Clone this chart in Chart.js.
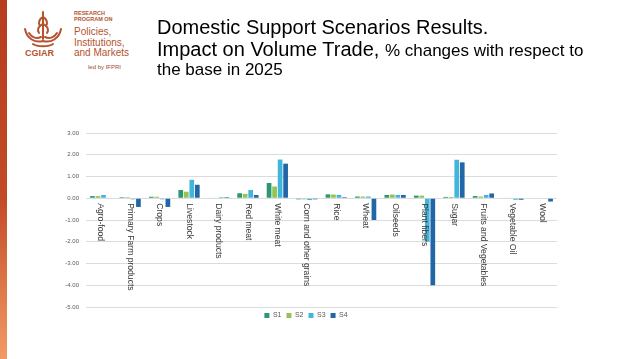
<!DOCTYPE html>
<html>
<head>
<meta charset="utf-8">
<script src="https://cdn.jsdelivr.net/npm/chart.js@4/dist/chart.umd.min.js"></script>
<style>
  html, body { margin:0; padding:0; background:#fff; }
  body { width:638px; height:359px; position:relative; overflow:hidden; font-family:"Liberation Sans", Arial, sans-serif; }
  #bar { position:absolute; left:0; top:0; width:7px; height:359px; background:linear-gradient(#b63d1d, #c24b26 55%, #f39b64); }
  #chartWrap { position:absolute; left:0; top:0; width:638px; height:359px; }
  .t { position:absolute; left:157px; color:#000; white-space:nowrap; }
  .logo { position:absolute; color:#b4532e; white-space:nowrap; font-family:"Liberation Sans", Arial, sans-serif; }
</style>
</head>
<body>
<div id="bar"></div>
<svg style="position:absolute;left:21px;top:9px" width="44" height="42" viewBox="0 0 44 42">
  <g fill="none" stroke="#b4532e" stroke-width="2" stroke-linecap="round">
    <path d="M22 3 L22 30"/>
    <path d="M22 8 C18 10 17 14 19 17"/>
    <path d="M22 8 C26 10 27 14 25 17"/>
    <path d="M22 15 C17 17 16 21 18 24"/>
    <path d="M22 15 C27 17 28 21 26 24"/>
    <path d="M4 20 C6 30 14 34 22 32 C30 34 38 30 40 20"/>
    <path d="M8 24 C11 29 16 30 20 28"/>
    <path d="M36 24 C33 29 28 30 24 28"/>
    <path d="M12 35 C16 38 28 38 32 35"/>
  </g>
</svg>
<div class="logo" style="left:25px;top:48px;font-size:9px;font-weight:bold;">CGIAR</div>
<div class="logo" style="left:74px;top:11px;font-size:5.5px;font-weight:bold;line-height:5.5px;">RESEARCH<br>PROGRAM ON</div>
<div class="logo" style="left:74px;top:27px;font-size:10px;line-height:10.5px;">Policies,<br>Institutions,<br>and Markets</div>
<div class="logo" style="left:88px;top:64px;font-size:6px;color:#a04a30;">led by IFPRI</div>

<div id="chartWrap"><canvas id="c"></canvas></div>

<div class="t" style="top:17px;font-size:20px;line-height:20px;">Domestic Support Scenarios Results.</div>
<div class="t" style="top:39px;font-size:20px;line-height:20px;">Impact on Volume Trade, <span style="font-size:17px;">% changes with respect to</span></div>
<div class="t" style="top:61px;font-size:17px;line-height:17px;">the base in 2025</div>

<script>
const categories = ["Agro-food","Primary Farm products","Crops","Livestock","Dairy products","Red meat","White meat","Corn and other grains","Rice","Wheat","Oilseeds","Plant fibers","Sugar","Fruits and Vegetables","Vegetable Oil","Wool"];
const seriesNames = ["S1","S2","S3","S4"];
const s1 = [0.10, 0.05, 0.07, 0.38, 0.02, 0.23, 0.70, -0.05, 0.18, 0.08, 0.15, 0.12, 0.06, 0.10, 0.02, 0.00];
const s2 = [0.10, 0.05, 0.07, 0.30, 0.02, 0.20, 0.54, -0.05, 0.17, 0.08, 0.17, 0.12, 0.06, 0.08, 0.02, 0.00];
const s3 = [0.15, -0.05, -0.05, 0.85, 0.05, 0.38, 1.78, -0.08, 0.15, 0.08, 0.15, -2.00, 1.77, 0.15, -0.07, 0.00];
const s4 = [0.02, -0.40, -0.40, 0.62, 0.05, 0.15, 1.59, -0.05, 0.05, -1.00, 0.15, -4.00, 1.65, 0.22, -0.07, -0.15];
const yTicks = [3, 2, 1, 0, -1, -2, -3, -4, -5];
const colors = ["#2c9870", "#92c353", "#44b5da", "#2166a6"];

const catLabels = {
  id: 'catLabels',
  afterDatasetsDraw(chart) {
    const ctx = chart.ctx, xs = chart.scales.x, ys = chart.scales.y;
    const y0 = ys.getPixelForValue(0) + 5;
    ctx.save();
    ctx.font = '8.6px "Liberation Sans", Arial, sans-serif';
    ctx.fillStyle = '#3a3a3a';
    ctx.textAlign = 'left';
    ctx.textBaseline = 'middle';
    categories.forEach((c, i) => {
      const px = xs.getPixelForValue(i);
      ctx.save();
      ctx.translate(px, y0);
      ctx.rotate(Math.PI / 2);
      ctx.fillText(c, 0, 0);
      ctx.restore();
    });
    ctx.restore();
  }
};

new Chart(document.getElementById('c'), {
  type: 'bar',
  data: {
    labels: categories,
    datasets: [s1, s2, s3, s4].map((d, i) => ({
      label: seriesNames[i], data: d, backgroundColor: colors[i], borderWidth: 0,
      categoryPercentage: 0.75, barPercentage: 0.85
    }))
  },
  options: {
    responsive: true, maintainAspectRatio: false, animation: false,
    layout: { padding: { top: 133, left: 55, right: 81, bottom: 30 } },
    plugins: {
      tooltip: { enabled: false },
      legend: {
        position: 'bottom',
        labels: { boxWidth: 5, boxHeight: 5, padding: 5, color: '#595959',
          font: { size: 7, family: '"Liberation Sans", Arial, sans-serif' } }
      }
    },
    scales: {
      x: { display: false },
      y: {
        min: -5, max: 3,
        afterFit(scale) { scale.width = 31; },
        afterBuildTicks(scale) { scale.ticks = yTicks.map(v => ({ value: v })); },
        ticks: { padding: 7, color: '#595959', font: { size: 6, family: '"Liberation Sans", Arial, sans-serif' },
          callback: v => Number(v).toFixed(2) },
        grid: { color: '#dcdcdc', drawTicks: false },
        border: { display: false }
      }
    }
  },
  plugins: [catLabels]
});
</script>
</body>
</html>
